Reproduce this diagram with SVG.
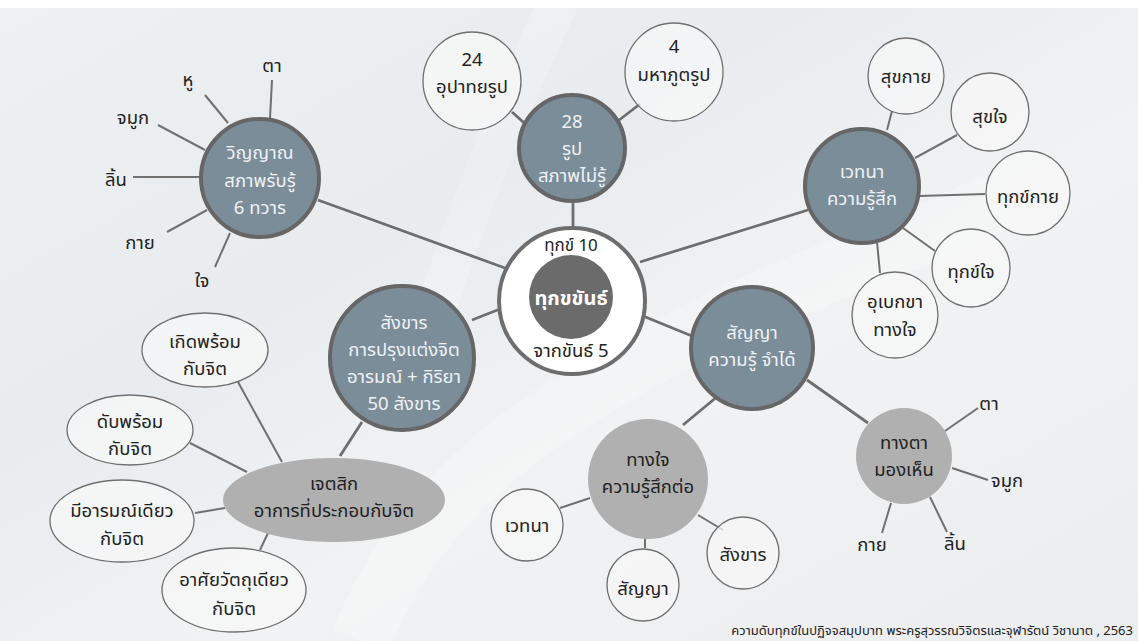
<svg xmlns="http://www.w3.org/2000/svg" width="1138" height="641" viewBox="0 0 1138 641">
<defs>
<linearGradient id="bg" x1="0" y1="0" x2="1" y2="1">
<stop offset="0" stop-color="#eef0f2"/>
<stop offset="0.35" stop-color="#e8ecef"/>
<stop offset="0.6" stop-color="#f1f2f3"/>
<stop offset="1" stop-color="#ecedee"/>
</linearGradient>
<style>
.t{font-family:"Noto Sans Thai","Noto Sans","DejaVu Sans",sans-serif;text-anchor:middle;dominant-baseline:central}
.w{fill:#eef2f5;font-size:18.5px}
.k{fill:#222;font-size:18.5px}
.slate{fill:#7c8d9a;stroke:#666;stroke-width:4}
.gray{fill:#b0b0b0}
.sat{fill:#f7f7f7;fill-opacity:0.75;stroke:#6f6f6f;stroke-width:1.3}
.c{stroke:#6e6e6e;stroke-width:2.8;fill:none}
.s{stroke:#707070;stroke-width:2;fill:none}
</style>
</defs>
<rect x="0" y="0" width="1138" height="641" fill="url(#bg)"/>
<rect x="0" y="0" width="1138" height="8" fill="#ffffff"/>
<path d="M360 641 C 420 500 520 420 700 330 C 820 270 900 250 1000 200" stroke="#ffffff" stroke-opacity="0.22" stroke-width="60" fill="none"/>
<path d="M560 0 C 520 80 470 200 430 330" stroke="#ffffff" stroke-opacity="0.2" stroke-width="40" fill="none"/>
<g id="connectors">
<line class="c" x1="318" y1="200" x2="505" y2="268"/>
<line class="c" x1="573" y1="201" x2="573" y2="228"/>
<line class="c" x1="640" y1="262" x2="808" y2="210"/>
<line class="c" x1="643" y1="316" x2="692" y2="336"/>
<line class="c" x1="500" y1="309" x2="472" y2="320"/>
<line class="c" x1="512" y1="112" x2="532" y2="130"/>
<line class="c" x1="640" y1="104" x2="614" y2="124"/>
<line class="c" x1="362" y1="422" x2="340" y2="456"/>
<line class="c" x1="683" y1="425" x2="718" y2="396"/>
<line class="c" x1="807" y1="380" x2="868" y2="423"/>
<line class="s" x1="270" y1="118" x2="272" y2="80"/>
<line class="s" x1="228" y1="123" x2="205" y2="95"/>
<line class="s" x1="205" y1="150" x2="158" y2="125"/>
<line class="s" x1="200" y1="177" x2="133" y2="177"/>
<line class="s" x1="207" y1="210" x2="167" y2="232"/>
<line class="s" x1="230" y1="233" x2="215" y2="267"/>
<line class="s" x1="887" y1="130" x2="892" y2="111"/>
<line class="s" x1="915" y1="158" x2="957" y2="135"/>
<line class="s" x1="920" y1="196" x2="985" y2="194"/>
<line class="s" x1="903" y1="228" x2="935" y2="251"/>
<line class="s" x1="877" y1="242" x2="880" y2="273"/>
<line class="s" x1="238" y1="382" x2="282" y2="462"/>
<line class="s" x1="190" y1="443" x2="247" y2="472"/>
<line class="s" x1="195" y1="513" x2="225" y2="508"/>
<line class="s" x1="260" y1="550" x2="268" y2="533"/>
<line class="s" x1="560" y1="508" x2="590" y2="498"/>
<line class="s" x1="645" y1="537" x2="645" y2="548"/>
<line class="s" x1="698" y1="515" x2="723" y2="530"/>
<line class="s" x1="945" y1="431" x2="978" y2="408"/>
<line class="s" x1="952" y1="468" x2="988" y2="480"/>
<line class="s" x1="930" y1="497" x2="947" y2="532"/>
<line class="s" x1="891" y1="503" x2="882" y2="533"/>
</g>
<g id="center">
<circle cx="572" cy="301" r="73" fill="#ffffff" stroke="#6e6e6e" stroke-width="4"/>
<circle cx="571" cy="297" r="42" fill="#6b6b6b"/>
<text class="t" x="571" y="299" fill="#ffffff" font-size="20" font-weight="bold">ทุกขขันธ์</text>
<text class="t k" x="571" y="246" style="font-size:17px">ทุกข์ 10</text>
<text class="t k" x="571" y="351">จากขันธ์ 5</text>
</g>
<g id="rupa">
<circle class="slate" cx="572" cy="148" r="53"/>
<text class="t w" x="572" y="122">28</text>
<text class="t w" x="572" y="149">รูป</text>
<text class="t w" x="572" y="176">สภาพไม่รู้</text>
</g>
<g id="upadaya">
<circle class="sat" cx="472" cy="81" r="49"/>
<text class="t k" x="472" y="60">24</text>
<text class="t k" x="472" y="87">อุปาทยรูป</text>
</g>
<g id="mahabhuta">
<circle class="sat" cx="674" cy="72" r="49"/>
<text class="t k" x="674" y="47">4</text>
<text class="t k" x="674" y="75">มหาภูตรูป</text>
</g>
<g id="vinnana">
<circle class="slate" cx="260" cy="178" r="59"/>
<text class="t w" x="260" y="153">วิญญาณ</text>
<text class="t w" x="260" y="181">สภาพรับรู้</text>
<text class="t w" x="260" y="208">6 ทวาร</text>
</g>
<g id="vinnana-labels">
<text class="t k" x="272" y="66">ตา</text>
<text class="t k" x="188" y="80">หู</text>
<text class="t k" x="133" y="118">จมูก</text>
<text class="t k" x="116" y="180">ลิ้น</text>
<text class="t k" x="140" y="243">กาย</text>
<text class="t k" x="202" y="281">ใจ</text>
</g>
<g id="vedana">
<circle class="slate" cx="862" cy="186" r="57"/>
<text class="t w" x="862" y="172">เวทนา</text>
<text class="t w" x="862" y="199">ความรู้สึก</text>
</g>
<g id="sukkaya"><circle class="sat" cx="906" cy="76" r="38"/><text class="t k" x="906" y="77">สุขกาย</text></g>
<g id="sukjai"><circle class="sat" cx="990" cy="112" r="39"/><text class="t k" x="990" y="117">สุขใจ</text></g>
<g id="tukkaya"><circle class="sat" cx="1028" cy="193" r="42"/><text class="t k" x="1028" y="197">ทุกข์กาย</text></g>
<g id="tukjai"><circle class="sat" cx="971" cy="268" r="39"/><text class="t k" x="971" y="272">ทุกข์ใจ</text></g>
<g id="ubekkha"><circle class="sat" cx="895" cy="315" r="43"/><text class="t k" x="895" y="302">อุเบกขา</text><text class="t k" x="895" y="330">ทางใจ</text></g>
<g id="sanya">
<circle class="slate" cx="752" cy="348" r="61"/>
<text class="t w" x="752" y="333">สัญญา</text>
<text class="t w" x="752" y="360">ความรู้ จำได้</text>
</g>
<g id="sankhara">
<circle class="slate" cx="402" cy="358" r="72"/>
<text class="t w" x="404" y="323">สังขาร</text>
<text class="t w" x="404" y="350">การปรุงแต่งจิต</text>
<text class="t w" x="404" y="377">อารมณ์ + กิริยา</text>
<text class="t w" x="404" y="404">50 สังขาร</text>
</g>
<g id="cetasika">
<ellipse class="gray" cx="334" cy="500" rx="111" ry="42"/>
<text class="t k" x="334" y="484">เจตสิก</text>
<text class="t k" x="334" y="511">อาการที่ประกอบกับจิต</text>
</g>
<g id="koet"><ellipse class="sat" cx="205" cy="350" rx="63" ry="37"/><text class="t k" x="205" y="342">เกิดพร้อม</text><text class="t k" x="205" y="369">กับจิต</text></g>
<g id="dap"><ellipse class="sat" cx="130" cy="430" rx="63" ry="35"/><text class="t k" x="130" y="422">ดับพร้อม</text><text class="t k" x="130" y="449">กับจิต</text></g>
<g id="arom"><ellipse class="sat" cx="122" cy="521" rx="72" ry="41"/><text class="t k" x="122" y="511">มีอารมณ์เดียว</text><text class="t k" x="122" y="539">กับจิต</text></g>
<g id="asai"><ellipse class="sat" cx="234" cy="590" rx="72" ry="42"/><text class="t k" x="234" y="580">อาศัยวัตถุเดียว</text><text class="t k" x="234" y="609">กับจิต</text></g>
<g id="tangjai">
<circle class="gray" cx="648" cy="479" r="60"/>
<text class="t k" x="648" y="460">ทางใจ</text>
<text class="t k" x="648" y="487">ความรู้สึกต่อ</text>
</g>
<g id="j-vedana"><circle class="sat" cx="527" cy="525" r="36"/><text class="t k" x="527" y="526">เวทนา</text></g>
<g id="j-sanya"><circle class="sat" cx="643" cy="585" r="36"/><text class="t k" x="643" y="589">สัญญา</text></g>
<g id="j-sankhara"><circle class="sat" cx="743" cy="553" r="36"/><text class="t k" x="743" y="555">สังขาร</text></g>
<g id="tangta">
<circle class="gray" cx="904" cy="456" r="48"/>
<text class="t k" x="904" y="443">ทางตา</text>
<text class="t k" x="904" y="470">มองเห็น</text>
</g>
<g id="tangta-labels">
<text class="t k" x="989" y="404">ตา</text>
<text class="t k" x="1007" y="481">จมูก</text>
<text class="t k" x="955" y="544">ลิ้น</text>
<text class="t k" x="872" y="545">กาย</text>
</g>
<text class="t" x="1133" y="631" font-size="13" fill="#222" style="text-anchor:end">ความดับทุกข์ในปฏิจจสมุปบาท พระครูสุวรรณวิจิตรและจุฬารัตน์ วิชานาต , 2563</text>
</svg>
